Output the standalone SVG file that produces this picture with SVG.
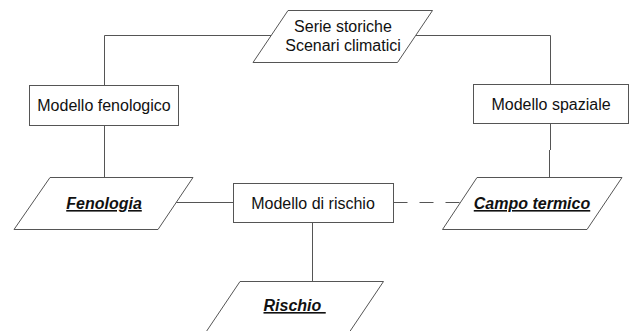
<svg xmlns="http://www.w3.org/2000/svg" width="631" height="331" viewBox="0 0 631 331">
<style>
.bg{fill:#fff}
.box{fill:#fff;stroke:#555;stroke-width:1}
.io{fill:#fff;stroke:#555;stroke-width:1}
.ln{fill:none;stroke:#555;stroke-width:1}
.dash{stroke-dasharray:14 12}
.t{font-family:"Liberation Sans",Arial,sans-serif;font-size:16px;fill:#111;text-anchor:middle}
.b{font-weight:bold;font-style:italic;text-decoration:underline}
</style>
<rect class="bg" x="0" y="0" width="631" height="331"/>
<g id="connectors">
<path class="ln" d="M271.5 35.5 H104.5 V85.5"/>
<path class="ln" d="M104.5 125.5 V177.5"/>
<path class="ln" d="M416 35.5 H550.5 V84.5"/>
<path class="ln" d="M550.5 123.5 V150 M549.5 150 V177.5"/>
<path class="ln" d="M176 202.5 H233.5"/>
<path class="ln dash" d="M393.5 202.5 H460"/>
<path class="ln" d="M312.5 222.5 V281.5"/>
</g>
<g id="serie">
<polygon class="io" points="288,10.5 432.5,10.5 397.5,62.5 253,62.5"/>
<text class="t" x="343" y="32">Serie storiche</text>
<text class="t" x="343" y="50.5">Scenari climatici</text>
</g>
<g id="modello-fenologico">
<rect class="box" x="29.5" y="85.5" width="149" height="40"/>
<text class="t" x="104" y="111">Modello fenologico</text>
</g>
<g id="modello-spaziale">
<rect class="box" x="473.5" y="84.5" width="155" height="39"/>
<text class="t" x="551" y="109.5">Modello spaziale</text>
</g>
<g id="fenologia">
<polygon class="io" points="50,177.5 193,177.5 158,229.5 14,229.5"/>
<text class="t b" x="104" y="209">Fenologia</text>
</g>
<g id="modello-rischio">
<rect class="box" x="233.5" y="183.5" width="160" height="39"/>
<text class="t" x="313" y="208.5">Modello di rischio</text>
</g>
<g id="campo-termico">
<polygon class="io" points="477,177.5 622,177.5 587,229.5 442.5,229.5"/>
<text class="t b" x="532" y="209">Campo termico</text>
</g>
<g id="rischio">
<polygon class="io" points="240,281.5 383.5,281.5 348.5,333.5 205,333.5"/>
<text class="t b" x="263.5" y="311" style="text-anchor:start" xml:space="preserve">Rischio </text>
</g>
</svg>
